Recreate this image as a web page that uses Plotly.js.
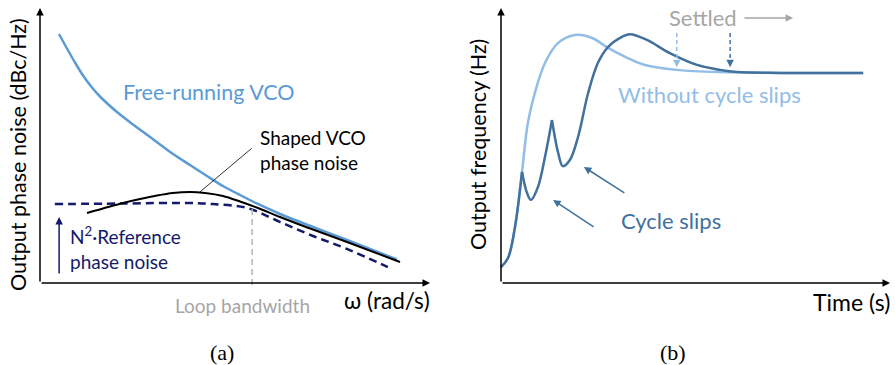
<!DOCTYPE html>
<html>
<head>
<meta charset="utf-8">
<script src="https://cdn.plot.ly/plotly-3.0.1.min.js"></script>
<style>html,body{margin:0;padding:0;background:#fff;}#chart{width:895px;height:365px;}</style>
</head>
<body>
<div id="chart"></div>
<script>
// ---------- Panel (a): phase noise vs. offset frequency (schematic units 0-100) ----------
const vcoX = [4.87, 6.92, 8.97, 11.03, 13.33, 15.38, 19.74, 23.85, 28.21, 34.10, 38.46, 42.82, 46.92, 51.28, 55.90, 61.54, 70.00, 78.72, 91.54];
const vcoY = [90.55, 85.27, 80.18, 75.45, 71.09, 67.82, 62.18, 57.64, 53.09, 46.91, 42.91, 38.91, 35.27, 32.00, 28.73, 25.09, 20.36, 15.64, 8.55];

const shapedX = [12.05, 21.28, 25.64, 30.0, 34.10, 38.46, 42.31, 46.92, 51.28, 55.90, 61.54, 70.0, 78.72, 92.31];
const shapedY = [25.45, 29.09, 30.55, 31.82, 32.73, 33.09, 32.73, 31.64, 29.64, 27.27, 24.0, 19.45, 14.91, 7.64];

const refX = [3.8, 20.5, 38.5, 44.4, 53.1, 61.5, 70.0, 78.7, 89.2];
const refY = [28.7, 28.9, 29.1, 28.7, 27.3, 22.2, 17.1, 12.4, 5.8];

const loopBwX = [54.4, 54.4];
const loopBwY = [26.9, -1.5];

const leaderX = [41.0, 54.3];
const leaderY = [33.1, 49.0];

// ---------- Panel (b): output frequency vs. time ----------
const slip1X = [0.0, 1.8, 3.6, 5.4];
const slip1Y = [5.8, 9.1, 20.4, 40.4];
const slip2X = [5.4, 6.7, 7.7, 9.5, 11.3, 13.1];
const slip2Y = [40.4, 32.7, 30.2, 34.9, 45.8, 59.3];
const slip3X = [13.1, 14.7, 15.9, 17.7, 19.8, 22.4, 24.9, 27.5, 31.1, 33.2, 37.5, 43.4, 50.4, 56.3, 60.7, 71.7, 93.1];
const slip3Y = [59.3, 47.3, 42.5, 44.7, 53.1, 69.1, 80.0, 85.8, 89.5, 90.5, 88.4, 83.6, 79.3, 77.5, 76.7, 76.4, 76.4];

const noSlipX = [0.0, 1.8, 3.6, 5.4, 6.9, 8.7, 11.3, 14.7, 19.0, 23.4, 27.5, 32.6, 37.0, 45.2, 56.3, 93.1];
const noSlipY = [5.8, 9.1, 20.4, 40.4, 58.2, 69.1, 80.0, 87.3, 90.2, 89.1, 85.5, 81.8, 79.3, 77.5, 76.7, 76.4];

const settleLightX = 45.2, settleDarkX = 58.9;
const settleTopY = 90.9, settleTipY = 78.5;

const txt = "Lato, 'Open Sans', sans-serif";
const cVco = '#5b9bd5', cNavy = '#141a6b', cGray = '#a6a6a6', cDark = '#41719c', cLight = '#92bde6';

const traces = [
  {x: refX, y: refY, xaxis: 'x', yaxis: 'y', mode: 'lines', line: {color: cNavy, width: 2.5, dash: '8px,5px', shape: 'spline'}},
  {x: loopBwX, y: loopBwY, xaxis: 'x', yaxis: 'y', mode: 'lines', line: {color: '#b4b4b4', width: 1.5, dash: '6px,4px'}},
  {x: vcoX, y: vcoY, xaxis: 'x', yaxis: 'y', mode: 'lines', line: {color: cVco, width: 2.5, shape: 'spline', smoothing: 0.8}},
  {x: shapedX, y: shapedY, xaxis: 'x', yaxis: 'y', mode: 'lines', line: {color: '#000', width: 2, shape: 'spline', smoothing: 0.8}},
  {x: leaderX, y: leaderY, xaxis: 'x', yaxis: 'y', mode: 'lines', line: {color: '#000', width: 0.8}},

  {x: noSlipX, y: noSlipY, xaxis: 'x2', yaxis: 'y2', mode: 'lines', line: {color: cLight, width: 2.5, shape: 'spline'}},
  {x: slip1X, y: slip1Y, xaxis: 'x2', yaxis: 'y2', mode: 'lines', line: {color: cDark, width: 2.5, shape: 'spline'}},
  {x: slip2X, y: slip2Y, xaxis: 'x2', yaxis: 'y2', mode: 'lines', line: {color: cDark, width: 2.5, shape: 'spline'}},
  {x: slip3X, y: slip3Y, xaxis: 'x2', yaxis: 'y2', mode: 'lines', line: {color: cDark, width: 2.5, shape: 'spline'}},
  {x: [settleLightX, settleLightX], y: [settleTopY, settleTipY + 2], xaxis: 'x2', yaxis: 'y2', mode: 'lines', line: {color: cLight, width: 1.5, dash: '4px,3px'}},
  {x: [settleDarkX, settleDarkX], y: [settleTopY, settleTipY + 2], xaxis: 'x2', yaxis: 'y2', mode: 'lines', line: {color: cDark, width: 1.5, dash: '4px,3px'}}
];

function arrow(xr, yr, x0, y0, x1, y1, color, w, head) {
  return {xref: xr, yref: yr, axref: xr, ayref: yr, x: x1, y: y1, ax: x0, ay: y0, text: '',
    showarrow: true, arrowhead: head || 2, arrowsize: 1, arrowwidth: w, arrowcolor: color};
}
function label(xr, yr, x, y, text, color, size, xanchor, extra) {
  return Object.assign({xref: xr, yref: yr, x: x, y: y, text: text, showarrow: false, xanchor: xanchor || 'center',
    yanchor: 'middle', align: 'left', font: {family: txt, size: size, color: color}}, extra || {});
}

const annotations = [
  // axes of (a)
  arrow('x', 'y', 0, 0, 100, 0, '#000', 1.5),
  arrow('x', 'y', 0, 0, 0, 100, '#000', 1.5),
  arrow('x', 'y', 4.9, 2.9, 4.9, 24, cNavy, 1.5),
  label('x', 'y', 43.3, 69.5, 'Free-running VCO', cVco, 21.5),
  label('x', 'y', 56.0, 48.5, 'Shaped VCO<br>phase noise', '#000', 19, 'left'),
  label('x', 'y', 7.3, 12.7, 'N<sup>2</sup>·Reference<br>phase noise', cNavy, 19, 'left'),
  label('x', 'y', 51.8, -8, 'Loop bandwidth', cGray, 19),
  label('x', 'y', 100.6, -6.5, 'ω (rad/s)', '#000', 22.5, 'right'),
  {xref: 'paper', yref: 'paper', x: 18 / 895, y: 1 - 155 / 365, text: 'Output phase noise (dBc/Hz)', textangle: -90,
    showarrow: false, xanchor: 'center', yanchor: 'middle', font: {family: txt, size: 21.5, color: '#000'}},
  {xref: 'paper', yref: 'paper', x: 221.5 / 895, y: 1 - 352 / 365, text: '(a)', showarrow: false,
    xanchor: 'center', yanchor: 'middle', font: {family: "'Liberation Serif', serif", size: 22, color: '#000'}},

  // axes of (b)
  arrow('x2', 'y2', 0, 0, 100, 0, '#000', 1.5),
  arrow('x2', 'y2', 0, 0, 0, 100, '#000', 1.5),
  arrow('x2', 'y2', 62.2, 96.4, 75.1, 96.4, cGray, 1.5),
  arrow('x2', 'y2', settleLightX, settleTipY + 3, settleLightX, settleTipY, cLight, 1.5),
  arrow('x2', 'y2', settleDarkX, settleTipY + 3, settleDarkX, settleTipY, cDark, 1.5),
  arrow('x2', 'y2', 24.2, 20.0, 13.4, 30.2, cDark, 1.5),
  arrow('x2', 'y2', 32.1, 32.4, 21.3, 42.2, cDark, 1.5),
  label('x2', 'y2', 52.0, 96.4, 'Settled', cGray, 22),
  label('x2', 'y2', 53.7, 68.4, 'Without cycle slips', cLight, 22),
  label('x2', 'y2', 43.7, 22.9, 'Cycle slips', cDark, 22),
  label('x2', 'y2', 100.6, -6.9, 'Time (s)', '#000', 23, 'right'),
  {xref: 'paper', yref: 'paper', x: 478 / 895, y: 1 - 145 / 365, text: 'Output frequency (Hz)', textangle: -90,
    showarrow: false, xanchor: 'center', yanchor: 'middle', font: {family: txt, size: 21.5, color: '#000'}},
  {xref: 'paper', yref: 'paper', x: 672.5 / 895, y: 1 - 352 / 365, text: '(b)', showarrow: false,
    xanchor: 'center', yanchor: 'middle', font: {family: "'Liberation Serif', serif", size: 22, color: '#000'}}
];

const hidden = {showgrid: false, zeroline: false, showticklabels: false, showline: false, ticks: '', fixedrange: true};
// pixel anchors: (a) x 0->40px, 100->430px ; (b) x 0->501px, 100->890px ; y 0->283px, 100->8px
const layout = {
  width: 895, height: 365, margin: {l: 0, r: 0, t: 0, b: 0},
  paper_bgcolor: '#fff', plot_bgcolor: 'rgba(0,0,0,0)', showlegend: false,
  xaxis: Object.assign({}, hidden, {range: [-10, 105], domain: [1 / 895, 449.5 / 895], anchor: 'y'}),
  yaxis: Object.assign({}, hidden, {range: [-15, 102], domain: [(365 - 324.25) / 365, (365 - 2.5) / 365], anchor: 'x'}),
  xaxis2: Object.assign({}, hidden, {range: [-10, 101], domain: [462.1 / 895, 893.9 / 895], anchor: 'y2'}),
  yaxis2: Object.assign({}, hidden, {range: [-15, 102], domain: [(365 - 324.25) / 365, (365 - 2.5) / 365], anchor: 'x2'}),
  annotations: annotations
};

Plotly.newPlot('chart', traces, layout, {displayModeBar: false, staticPlot: true});
</script>
</body>
</html>
